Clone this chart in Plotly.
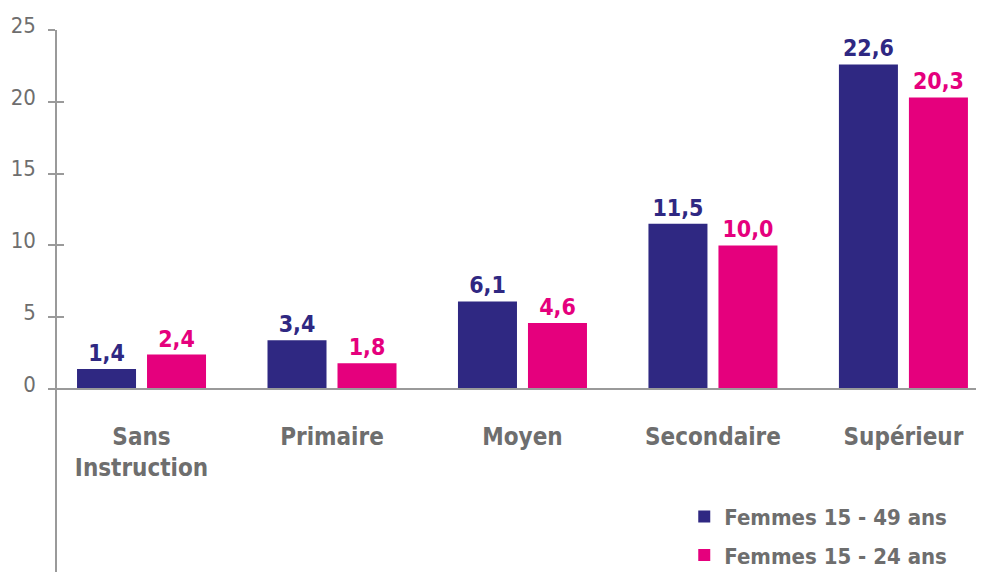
import plotly.graph_objects as go

categories = ["Sans<br>Instruction", "Primaire", "Moyen", "Secondaire", "Supérieur"]
femmes_15_49 = [1.4, 3.4, 6.1, 11.5, 22.6]
femmes_15_24 = [2.4, 1.8, 4.6, 10.0, 20.3]
series_names = ["Femmes 15 - 49 ans", "Femmes 15 - 24 ans"]
y_ticks = [0, 5, 10, 15, 20, 25]

BLUE = "#2f2882"
PINK = "#e5007d"
GRAY = "#6e6e6e"
AXIS = "#9a9a9a"
FONT = "Liberation Sans Narrow, DejaVu Sans Condensed, Roboto Condensed, Arial Narrow, sans-serif"

# page body has an 8px default margin; figure sized to fit the window
W, H = 976, 564
T, B, L, R = 22, 0, 48, 0
plot_h = H - T - B
px_per_unit = 14.36
y_max = 25
y_min = y_max - plot_h / px_per_unit
zero_px = T + y_max * px_per_unit
xpos = (H - zero_px) / plot_h

fig = go.Figure()
for i, (name, vals, col) in enumerate([(series_names[0], femmes_15_49, BLUE), (series_names[1], femmes_15_24, PINK)]):
    fig.add_trace(go.Bar(
        x=categories, y=vals, name=name, legendgroup=f"g{i}",
        marker=dict(color=col, line=dict(width=0)),
        texttemplate="%{y:.1f}", textposition="outside", cliponaxis=False,
        textfont=dict(family=FONT, size=23, color=col, weight="bold"),
    ))

fig.add_trace(go.Scatter(x=[categories[0]], y=[None], yaxis="y2", showlegend=False, hoverinfo="skip"))

fig.update_layout(
    width=W, height=H, margin=dict(l=L, r=R, t=T, b=B, autoexpand=False),
    paper_bgcolor="white", plot_bgcolor="white",
    separators=", ",
    barmode="group", bargap=0.265, bargroupgap=0.157,
    font=dict(family=FONT, color=GRAY),
    xaxis=dict(
        anchor="free", position=xpos, range=[-0.449, 4.423], automargin=False,
        showline=True, linecolor=AXIS, linewidth=1.5, ticks="", showgrid=False,
        tickfont=dict(family=FONT, size=24, color=GRAY, weight="bold"),
        ticklabelstandoff=26,
    ),
    yaxis=dict(
        anchor="free", position=0,
        range=[y_min, y_max], tickvals=y_ticks, ticktext=[str(v) for v in y_ticks],
        showline=True, linecolor=AXIS, linewidth=1.5, showgrid=False, zeroline=False,
        ticks="outside", ticklen=7, tickcolor=AXIS, tickwidth=1.5, automargin=False,
        tickfont=dict(family=FONT, size=22, color=GRAY),
        ticklabelstandoff=8, ticklabelshift=-5,
    ),
    yaxis2=dict(
        overlaying="y", side="left", anchor="free", position=0, range=[y_min, y_max], automargin=False,
        tickvals=[5, 10, 15, 20], showticklabels=False, ticks="inside", ticklen=7,
        tickcolor=AXIS, tickwidth=1.5, showgrid=False, zeroline=False, showline=False,
    ),
    legend=dict(
        x=0.677, y=0.141, xanchor="left", yanchor="top", bgcolor="rgba(0,0,0,0)",
        font=dict(family=FONT, size=22, color=GRAY, weight="bold"),
        traceorder="grouped", tracegroupgap=7, itemsizing="constant",
    ),
)

fig.write_html("out.html")
